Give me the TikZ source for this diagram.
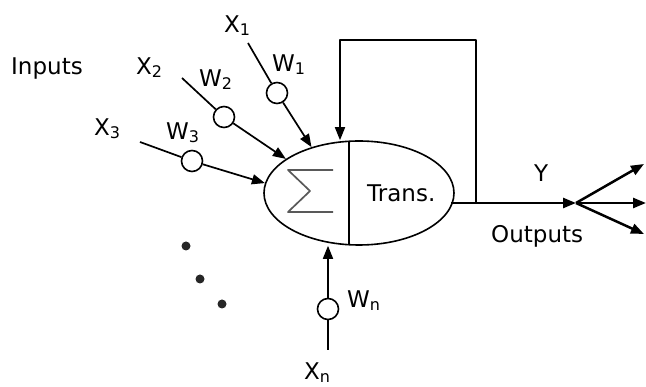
\documentclass[tikz,border=0pt]{standalone}
\usepackage{fontspec}
\setmainfont{DejaVu Sans}
\usetikzlibrary{arrows.meta,shapes.geometric}
\newcommand{\sub}[1]{\raisebox{-3pt}{\fontsize{16}{16}\selectfont #1}}

\begin{document}
\begin{tikzpicture}[
   x=1pt,
   y=-1pt,
   line join=round,
   every node/.style={font=\fontsize{23}{27}\selectfont,inner sep=0pt},
   link/.style={line width=1.7pt},
   arr/.style={link,-{Triangle[length=13pt,width=10pt]}},
   outarr/.style={line width=2.5pt,-{Triangle[length=13pt,width=10pt]}},
   wt/.style={circle,draw,fill=white,line width=1.6pt,minimum size=21pt}
 ]
   \useasboundingbox (0,0) rectangle (646,387);

   % The neuron: summing half and transfer half.
   \node[ellipse,draw,line width=1.6pt,minimum width=190pt,minimum height=104pt] (cell) at (359,193) {};
   \draw[link] (349,141.3) -- (349,244.7);
   \draw[link,black!65] (333,170) -- (288,170) -- (310,191) -- (288,212) -- (333,212);
   \node[anchor=base west] (trans) at (367,202) {Trans.};

   % Weighted inputs.
   \node[wt] (w1) at (277,93) {};
   \node[wt] (w2) at (224,117) {};
   \node[wt] (w3) at (192,161) {};
   \node[wt] (wn) at (328,309) {};
   \coordinate (s1) at (248,43);
   \coordinate (s2) at (182,78);
   \coordinate (s3) at (140,142);
   \coordinate (sn) at (328,350);
   \draw[link] (s1) -- (w1);
   \draw[link] (s2) -- (w2);
   \draw[link] (s3) -- (w3);
   \draw[link] (sn) -- (wn);
   \draw[arr] (w1) -- (cell.136);
   \draw[arr] (w2) -- (cell.155);
   \draw[arr] (w3) -- (cell.174);
   \draw[arr] (wn) -- (wn |- cell.south);

   \node[anchor=base west] (inputs) at (11,75) {Inputs};
   \node[anchor=base west] (x1) at (224,33) {X\sub{1}};
   \node[anchor=base west] (x2) at (136,75) {X\sub{2}};
   \node[anchor=base west] (x3) at (94,136) {X\sub{3}};
   \node[anchor=base west] (xn) at (304,380) {X\sub{n}};
   \node[anchor=base west] (l1) at (272,72) {W\sub{1}};
   \node[anchor=base west] (l2) at (199,87) {W\sub{2}};
   \node[anchor=base west] (l3) at (166,140) {W\sub{3}};
   \node[anchor=base west] (ln) at (347,308) {W\sub{n}};

   % Further inputs left out.
   \foreach \p in {(186,246),(200,279),(222,304)}
     \fill[black!85] \p circle (4.5pt);

   % Output and feedback.
   \coordinate (out) at (451,203);
   \coordinate (fb) at (476,203);
   \coordinate (top) at (340,40);
   \coordinate (jn) at (576,203);
   \coordinate (o1) at (644,164);
   \coordinate (o2) at (646,203);
   \coordinate (o3) at (644,234);
   \draw[arr] (fb) |- (top) -- (top |- cell.north);
   \draw[outarr] (out) -- (jn);
   \foreach \o in {o1,o2,o3}
     \draw[outarr] (jn) -- (\o);
   \node[anchor=base west] (y) at (534,182) {Y};
   \node[anchor=base west] (outputs) at (491,243) {Outputs};
\end{tikzpicture}
\end{document}
